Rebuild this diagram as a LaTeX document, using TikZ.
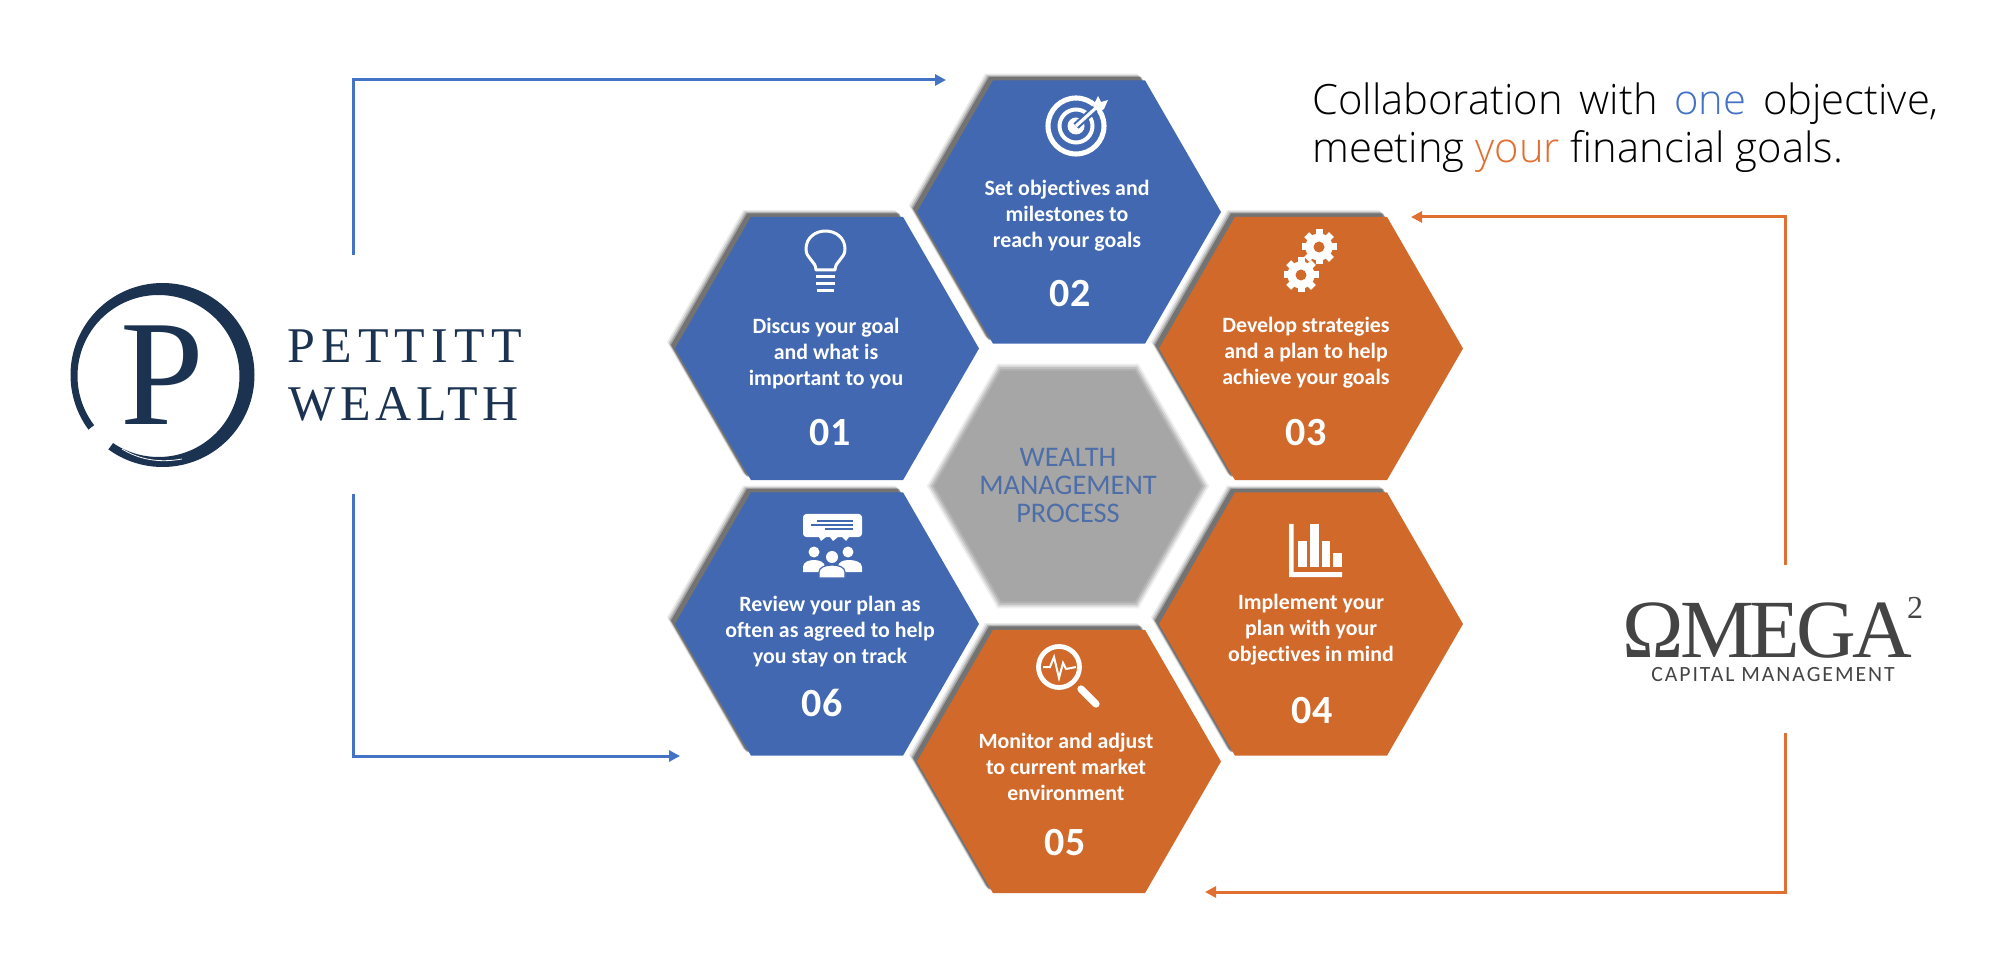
\documentclass[tikz,border=0pt]{standalone}
\usepackage{fontspec}
\usetikzlibrary{shapes.geometric}
\usetikzlibrary{shadows}
\usetikzlibrary{arrows.meta}
\setmainfont[Ligatures=NoCommon]{Carlito}
\newfontfamily\lightfont{Open Sans Light}
\newfontfamily\logofont{Liberation Serif}
\definecolor{hexblue}{RGB}{65,104,176}
\definecolor{hexorange}{RGB}{209,105,43}
\definecolor{linkblue}{RGB}{68,114,196}
\definecolor{linkorange}{RGB}{224,112,50}
\definecolor{hexgrey}{RGB}{166,166,166}
\definecolor{midtext}{RGB}{78,110,168}
\definecolor{navy}{RGB}{27,51,80}
\definecolor{omegagrey}{RGB}{68,68,68}
\tikzset{
  hexbase/.style={regular polygon,regular polygon sides=6,minimum size=228pt,inner sep=0pt,outer sep=0pt,
    general shadow={fill=black,opacity=.08,shadow xshift=-6pt,shadow yshift=5pt},
    general shadow={fill=black,opacity=.12,shadow xshift=-5pt,shadow yshift=4.2pt},
    general shadow={fill=black,opacity=.2,shadow xshift=-4pt,shadow yshift=3.4pt},
    general shadow={fill=black,opacity=.3,shadow xshift=-3pt,shadow yshift=2.6pt}},
  hexb/.style={hexbase,fill=hexblue},
  hexo/.style={hexbase,fill=hexorange},
  hexmid/.style={regular polygon,regular polygon sides=6,minimum size=200pt,inner sep=0pt,outer sep=0pt,fill=hexgrey,
    general shadow={fill=hexgrey,opacity=.18,shadow scale=1.06},
    general shadow={fill=hexgrey,opacity=.3,shadow scale=1.045},
    general shadow={fill=hexgrey,opacity=.45,shadow scale=1.03},
    general shadow={fill=hexgrey,opacity=.6,shadow scale=1.015}},
  steptext/.style={font=\fontsize{16.4}{19.5}\selectfont\bfseries,text=white,align=center,inner sep=0pt},
  stepnum/.style={font=\fontsize{30}{30}\selectfont\bfseries,text=white,inner sep=0pt},
  bluelink/.style={draw=linkblue,line width=2.25pt,-{Triangle[length=8.25pt,width=8.25pt]}},
  orangelink/.style={draw=linkorange,line width=2.25pt,-{Triangle[length=8.25pt,width=8.25pt]}},
  iconline/.style={draw=white,line width=2.25pt},
}
\begin{document}
\begin{tikzpicture}[x=0.75pt,y=0.75pt,yscale=-1,xscale=1]
\useasboundingbox (0,0) rectangle (2000,980);

%Shape: Hexagon
\node [hexb] (hexone) at (827,348.5) {};
\node [hexb] (hextwo) at (1069,212) {};
\node [hexo] (hexthree) at (1311,348.5) {};
\node [hexo] (hexfour) at (1311,624) {};
\node [hexb] (hexsix) at (827,624) {};
\node [hexo] (hexfive) at (1069,761.5) {};
\node [hexmid] (hexcentre) at (1068,486) {};

% Text Node
\node [font=\fontsize{21.3}{21}\selectfont,text=midtext,align=center,inner sep=0pt] (midlabel) at (1068,485) {WEALTH\\MANAGEMENT\\PROCESS};
% Text Node
\node [steptext] (textone) at (826,354) {Discus your goal\\and what is\\important to you};
\node [stepnum] (numone) at (830,433) {01};
% Text Node
\node [steptext] (texttwo) at (1067,216) {Set objectives and\\milestones to\\reach your goals};
\node [stepnum] (numtwo) at (1070,294) {02};
% Text Node
\node [steptext] (textthree) at (1306,353) {Develop strategies\\and a plan to help\\achieve your goals};
\node [stepnum] (numthree) at (1306,433) {03};
% Text Node
\node [steptext] (textfour) at (1311,630) {Implement your\\plan with your\\objectives in mind};
\node [stepnum] (numfour) at (1312,711) {04};
% Text Node
\node [steptext] (textfive) at (1066,767) {Monitor and adjust\\to current market\\environment};
\node [stepnum] (numfive) at (1065,843) {05};
% Text Node
\node [steptext] (textsix) at (830,632) {Review your plan as\\often as agreed to help\\you stay on track};
\node [stepnum] (numsix) at (822,703) {06};

%Shape: Bulb
\draw [iconline,line join=round] (816,270) .. controls (816,261) and (806,259) .. (806,249) .. controls (806,238) and (815,231) .. (825.5,231) .. controls (836,231) and (845,238) .. (845,249) .. controls (845,259) and (835,261) .. (835,270) -- cycle ;
\draw [iconline] (816,277) -- (835,277) (816,284) -- (835,284) (817,290.5) -- (834,290.5) ;

%Shape: Target
\draw [draw=white,line width=3.8pt] (1076,126) circle [radius=28] ;
\draw [draw=white,line width=3pt] (1076,126) circle [radius=16.5] ;
\fill [white] (1076,126) circle [radius=8.5] ;
\draw [draw=hexblue,line width=5.5pt] (1076,126) -- (1098,106) ;
\draw [draw=white,line width=2.4pt] (1076,126) -- (1098,106) ;
\fill [white] (1093,106) -- (1098,96) -- (1101,102) -- (1108,100) -- (1104,109) -- (1098,112) -- cycle ;

%Shape: Gears
\foreach \gx/\gy in {1319/247,1301/275}{
  \fill [white] (\gx,\gy) circle [radius=13.5] ;
  \foreach \ga in {0,45,...,315}
    \fill [white,rotate around={\ga:(\gx,\gy)}] (\gx-3.5,\gy-17.5) rectangle (\gx+3.5,\gy-11) ;
  \fill [hexorange] (\gx,\gy) circle [radius=5.5] ;
}

%Shape: Bars
\fill [white] (1289,524) -- (1293.5,524) -- (1293.5,572) -- (1342,572) -- (1342,577) -- (1289,577) -- cycle ;
\fill [white] (1298,541) rectangle (1307,567) ;
\fill [white] (1310,524) rectangle (1319,567) ;
\fill [white] (1322,541) rectangle (1330,567) ;
\fill [white] (1333,553) rectangle (1342,567) ;

%Shape: Magnifier
\draw [draw=white,line width=3.6pt] (1059,667) circle [radius=20.5] ;
\draw [draw=white,line width=5.5pt,line cap=round] (1081,689) -- (1096,704) ;
\draw [draw=white,line width=1.5pt] (1043,667) -- (1050,667) -- (1054,657) -- (1059,678) -- (1063,663) -- (1066,669) -- (1076,667) ;

%Shape: Meeting
\fill [white,rounded corners=2.5pt] (803,514) rectangle (862,537) ;
\fill [white] (819,537) -- (826,537) -- (821,541) -- cycle (830,537) -- (838,537) -- (833,541) -- cycle (842,537) -- (849,537) -- (846,541) -- cycle ;
\draw [draw=hexblue,line width=.9pt] (817,521) -- (853,521) (811,525) -- (853,525) (825,529) -- (853,529) ;
\fill [white] (814,552) circle [radius=5.5] (848,552) circle [radius=5.5] ;
\fill [white] (803,572) -- (803,567) .. controls (803,562) and (809,560) .. (814,560) .. controls (819,560) and (825,562) .. (825,567) -- (825,572) -- cycle ;
\fill [white] (838,572) -- (838,567) .. controls (838,562) and (843,560) .. (849,560) .. controls (855,560) and (862,562) .. (862,567) -- (862,572) -- cycle ;
\fill [white] (832,557) circle [radius=6] ;
\draw [fill=white,draw=hexblue,line width=.9pt] (819,578) -- (819,572) .. controls (819,567) and (826,565) .. (832,565) .. controls (838,565) and (845,567) .. (845,572) -- (845,578) -- cycle ;

%Shape: Pettitt ring
\fill [navy,even odd rule] (162.5,375) circle [radius=92] (158.5,376) circle [radius=81] ;
\fill [white] (162,375) -- (92,427) -- (70,445) -- (95,465) -- (110,447) -- cycle ;
\draw [draw=white,line width=.6pt] (122,449) .. controls (140,460) and (160,463) .. (182,459) ;
% Text Node
\node [font=\logofont\fontsize{113}{113}\selectfont,text=navy,inner sep=0pt] (pmark) at (162,375) {P};
\node [font=\logofont\fontsize{37.5}{37.5}\selectfont\addfontfeature{LetterSpace=12.5},text=navy,anchor=west,inner sep=0pt] (pettitt) at (287,346.5) {PETTITT};
\node [font=\logofont\fontsize{37.5}{37.5}\selectfont\addfontfeature{LetterSpace=9.6},text=navy,anchor=west,inner sep=0pt] (wealth) at (288,404) {WEALTH};

% Text Node
\node [font=\logofont\fontsize{62}{62}\selectfont\addfontfeature{LetterSpace=-4.4},text=omegagrey,anchor=base west,inner sep=0pt,text depth=0pt] (omega) at (1622,657) {ΩMEGA\kern-4pt\raisebox{29pt}{\fontsize{24}{24}\selectfont 2}};
\node [font=\fontsize{16.3}{16.3}\selectfont\addfontfeature{LetterSpace=9},text=omegagrey,anchor=base west,inner sep=0pt,text height=8pt,text depth=0pt] (capital) at (1651,681) {CAPITAL MANAGEMENT};

% Text Node
\node [font=\lightfont\fontsize{31.3}{36}\selectfont,align=left,anchor=base west,inner sep=0pt] (headline) at (1312,163) {\makebox[470pt][s]{Collaboration with \textcolor{linkblue}{one} objective,}\\meeting \textcolor{linkorange}{your} financial goals.};

%Straight Lines
\coordinate (bluestartA) at (353,255);
\coordinate (bluetipA) at (946,80);
\coordinate (bluestartB) at (353,494);
\coordinate (bluetipB) at (680,756);
\coordinate (orangestartA) at (1785,565);
\coordinate (orangetipA) at (1411,217);
\coordinate (orangestartB) at (1785,733);
\coordinate (orangetipB) at (1205,892);
\draw [bluelink] (bluestartA) |- (bluetipA) ;
\draw [bluelink] (bluestartB) |- (bluetipB) ;
\draw [orangelink] (orangestartA) |- (orangetipA) ;
\draw [orangelink] (orangestartB) |- (orangetipB) ;

\end{tikzpicture}
\end{document}
